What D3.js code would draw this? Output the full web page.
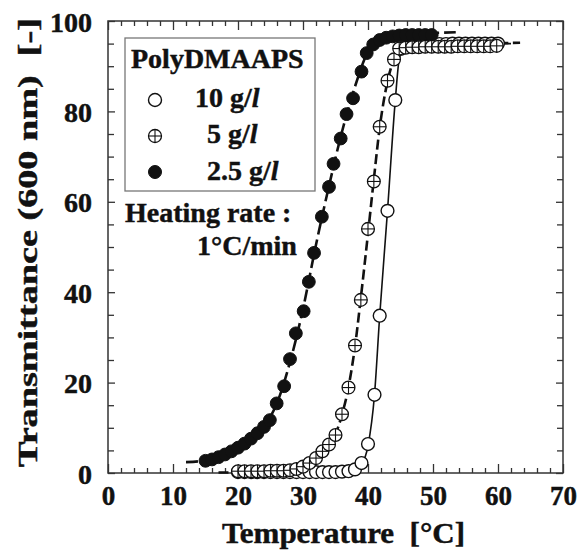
<!DOCTYPE html>
<html>
<head>
<meta charset="utf-8">
<script src="https://cdn.jsdelivr.net/npm/d3@7"></script>
<style>
  html, body { margin: 0; padding: 0; background: #fff; }
  svg { display: block; }
  text { font-family: "Liberation Serif", "Times New Roman", serif; font-weight: bold; fill: #111; stroke: #111; stroke-width: 0.45px; }
</style>
</head>
<body>
<svg id="chart" width="579" height="556"></svg>
<script>
// ---------- data ----------
const xTickLabels = [0, 10, 20, 30, 40, 50, 60, 70];
const yTickLabels = [0, 20, 40, 60, 80, 100];

// 10 g/l (open circles)
const temp10 = [20,21,22,23,24,25,26,27,28,29,30,31,32,33,34,35,36,37,38,39,40,41,41.8,43,44.2,45,46,47,48,49,50,51,52,53,54,55,56,57,58,59,60];
const trans10 = [0.2,0.2,0.2,0.2,0.2,0.2,0.2,0.2,0.2,0.2,0.2,0.2,0.2,0.2,0.2,0.2,0.3,0.4,0.8,2.2,6.4,17.3,34.8,58,82.5,93.8,94.6,94.8,94.8,94.8,94.9,94.9,94.9,95,95,95,95,95,95,95,95];

// 5 g/l (crossed circles)
const temp5 = [20,21,22,23,24,25,26,27,28,29,30,31,32,33,34,35,36,37,38,38.9,40,40.9,41.8,43,44,44.8,45.8,46.8,47.8,48.8,49.8,50.8,51.8,52.8,53.8,54.8,55.8,56.8,57.8,58.8,59.8];
const trans5 = [0.4,0.4,0.4,0.4,0.4,0.5,0.5,0.5,0.6,0.9,1.4,2.2,3.3,4.8,6.3,8.4,13,18.9,28.2,38.3,54,64.5,76.6,86.8,91.5,93.9,94.1,94.2,94.2,94.3,94.3,94.3,94.3,94.3,94.4,94.4,94.4,94.4,94.4,94.4,94.5];

// 2.5 g/l (filled circles)
const temp25 = [15,16,17,18,19,20,21,22,23,24,24.9,25.95,27.1,28,28.9,30.1,30.9,31.7,32.9,34,34.7,35.8,36.7,37.7,39,39.8,40.8,41.8,42.8,43.8,44.8,45.8,46.8,47.8,48.8,49.8];
const trans25 = [2.7,3.0,3.5,4.1,4.8,5.6,6.5,7.6,8.8,10.2,11.7,15.4,19.2,25.2,30.9,35.8,42.3,48.7,56.7,63.3,68.4,74.0,79.4,82.9,88.8,92.9,94.8,95.8,96.3,96.6,96.8,96.9,96.9,96.9,96.9,96.9];

// fitted curves
const fit10T = [19,30,36,38,39,40,41,41.8,43,44.2,44.8,45.6,47,62];
const fit10V = [0.1,0.2,0.3,0.6,1.8,6,17.3,34.8,58,82.5,91.5,94.2,94.6,95];
const fit5T = [17,26,28,30,32,34,35,36,37,38,38.9,40,40.9,41.8,43,44,44.8,46,63.4];
const fit5V = [0.1,0.4,0.6,1.3,3,6,8.6,12.9,19,28,38.8,53,65,76.4,86.6,91.6,93.7,94.2,95.2];
const fit25T = [12,15,18,20,22,24,26,28,30,32,34,36,38,40,42,44,53.5];
const fit25V = [2.4,2.8,4,5.4,7.5,10.3,15.5,24.5,36.3,50.5,63.5,75.5,85.5,93.2,96,96.7,97.5];

// ---------- layout ----------
const svg = d3.select("#chart");
const mLeft = 108, mRight = 563, mTop = 21, mBottom = 473;
const x = d3.scaleLinear().domain([0, 70]).range([mLeft, mRight]);
const y = d3.scaleLinear().domain([0, 100]).range([mBottom, mTop]);
const ink = "#111";
const serif = '"Liberation Serif", "Times New Roman", serif';

// frame
svg.append("rect").attr("x", mLeft).attr("y", mTop)
  .attr("width", mRight - mLeft).attr("height", mBottom - mTop)
  .attr("fill", "none").attr("stroke", "#333").attr("stroke-width", 1.5);

// ticks (inside, on all four sides)
const xMinor = d3.range(0, 70.01, 2).filter(v => v % 10 !== 0);
const yMinor = d3.range(0, 100.01, 5).filter(v => v % 20 !== 0);
function axisLines(axis, g) {
  g.call(axis);
  g.select(".domain").remove();
  g.selectAll(".tick line").attr("stroke", "#333").attr("stroke-width", 1.3);
  g.selectAll(".tick text").remove();
}
axisLines(d3.axisBottom(x).tickValues(xTickLabels).tickSize(-9), svg.append("g").attr("transform", `translate(0,${mBottom})`));
axisLines(d3.axisBottom(x).tickValues(xMinor).tickSize(-5), svg.append("g").attr("transform", `translate(0,${mBottom})`));
axisLines(d3.axisTop(x).tickValues(xTickLabels).tickSize(-9), svg.append("g").attr("transform", `translate(0,${mTop})`));
axisLines(d3.axisTop(x).tickValues(xMinor).tickSize(-5), svg.append("g").attr("transform", `translate(0,${mTop})`));
axisLines(d3.axisLeft(y).tickValues(yTickLabels).tickSize(-7), svg.append("g").attr("transform", `translate(${mLeft},0)`));
axisLines(d3.axisLeft(y).tickValues(yMinor).tickSize(-6), svg.append("g").attr("transform", `translate(${mLeft},0)`));
axisLines(d3.axisRight(y).tickValues(yTickLabels).tickSize(-7), svg.append("g").attr("transform", `translate(${mRight},0)`));
axisLines(d3.axisRight(y).tickValues(yMinor).tickSize(-6), svg.append("g").attr("transform", `translate(${mRight},0)`));

// tick labels
const gxl = svg.append("g").attr("transform", `translate(0,${mBottom})`)
  .call(d3.axisBottom(x).tickValues(xTickLabels).tickSize(0).tickPadding(0));
gxl.select(".domain").remove();
gxl.selectAll(".tick text").attr("y", 32).attr("dy", null)
  .style("font-family", serif).style("font-weight", "bold").style("font-size", "27px").attr("fill", ink);

const gyl = svg.append("g").attr("transform", `translate(${mLeft},0)`)
  .call(d3.axisLeft(y).tickValues(yTickLabels).tickSize(0).tickPadding(0));
gyl.select(".domain").remove();
gyl.selectAll(".tick text").attr("x", -16).attr("dy", "0.36em")
  .style("font-family", serif).style("font-weight", "bold").style("font-size", "28px").attr("fill", ink);

// axis titles
svg.append("text").attr("x", 222).attr("y", 543)
  .attr("textLength", 243).attr("lengthAdjust", "spacingAndGlyphs")
  .style("font-size", "29px").style("white-space", "pre")
  .text("Temperature  [°C]");
svg.append("text").attr("transform", "translate(37,467) rotate(-90)")
  .attr("textLength", 449).attr("lengthAdjust", "spacingAndGlyphs")
  .style("font-size", "27px").style("white-space", "pre")
  .text("Transmittance (600 nm)  [-]");

// ---------- fitted lines ----------
const line = d3.line().x(d => x(d[0])).y(d => y(d[1])).curve(d3.curveMonotoneX);
const zip = (a, b) => a.map((v, i) => [v, b[i]]);
svg.append("path").datum(zip(fit10T, fit10V)).attr("d", line)
  .attr("fill", "none").attr("stroke", ink).attr("stroke-width", 1.6);
svg.append("path").datum(zip(fit5T, fit5V)).attr("d", line)
  .attr("fill", "none").attr("stroke", ink).attr("stroke-width", 2.6).attr("stroke-dasharray", "10,4.5");
svg.append("path").datum(zip(fit25T, fit25V)).attr("d", line)
  .attr("fill", "none").attr("stroke", ink).attr("stroke-width", 2.6).attr("stroke-dasharray", "12,5");

// ---------- markers ----------
function openMarker(g, r) {
  g.append("circle").attr("r", r).attr("fill", "#fff").attr("stroke", ink).attr("stroke-width", 1.4);
}
function filledMarker(g, r) {
  g.append("circle").attr("r", r).attr("fill", ink).attr("stroke", ink).attr("stroke-width", 1);
}
function crossMarker(g, r) {
  g.append("circle").attr("r", r).attr("fill", "#fff").attr("stroke", ink).attr("stroke-width", 1.3);
  g.append("line").attr("x1", -r).attr("x2", r).attr("stroke", ink).attr("stroke-width", 1.1);
  g.append("line").attr("y1", -r).attr("y2", r).attr("stroke", ink).attr("stroke-width", 1.1);
}
function drawSeries(T, V, marker) {
  svg.append("g").selectAll("g").data(zip(T, V)).join("g")
    .attr("transform", d => `translate(${x(d[0])},${y(d[1])})`)
    .each(function () { marker(d3.select(this), 6.4); });
}
drawSeries(temp10, trans10, openMarker);
drawSeries(temp25, trans25, filledMarker);
drawSeries(temp5, trans5, crossMarker);

// ---------- legend ----------
const lg = svg.append("g");
lg.append("rect").attr("x", 125).attr("y", 38).attr("width", 190).attr("height", 153)
  .attr("fill", "#fff").attr("stroke", "#777").attr("stroke-width", 1.3);
lg.append("text").attr("x", 131).attr("y", 68).style("font-size", "28px").text("PolyDMAAPS");
const legendItems = [
  { label: "10 g/", marker: openMarker, cy: 100, tx: 195, ty: 107 },
  { label: "5 g/", marker: crossMarker, cy: 136, tx: 207, ty: 143 },
  { label: "2.5 g/", marker: filledMarker, cy: 172, tx: 207, ty: 180 }
];
legendItems.forEach(it => {
  const g = lg.append("g").attr("transform", `translate(155,${it.cy})`);
  it.marker(g, 6.5);
  const t = lg.append("text").attr("x", it.tx).attr("y", it.ty).style("font-size", "28px");
  t.append("tspan").text(it.label);
  t.append("tspan").style("font-style", "italic").text("l");
});
svg.append("text").attr("x", 125).attr("y", 222).style("font-size", "28px").text("Heating rate :");
svg.append("text").attr("x", 197).attr("y", 255).style("font-size", "28px").text("1°C/min");
</script>
</body>
</html>
